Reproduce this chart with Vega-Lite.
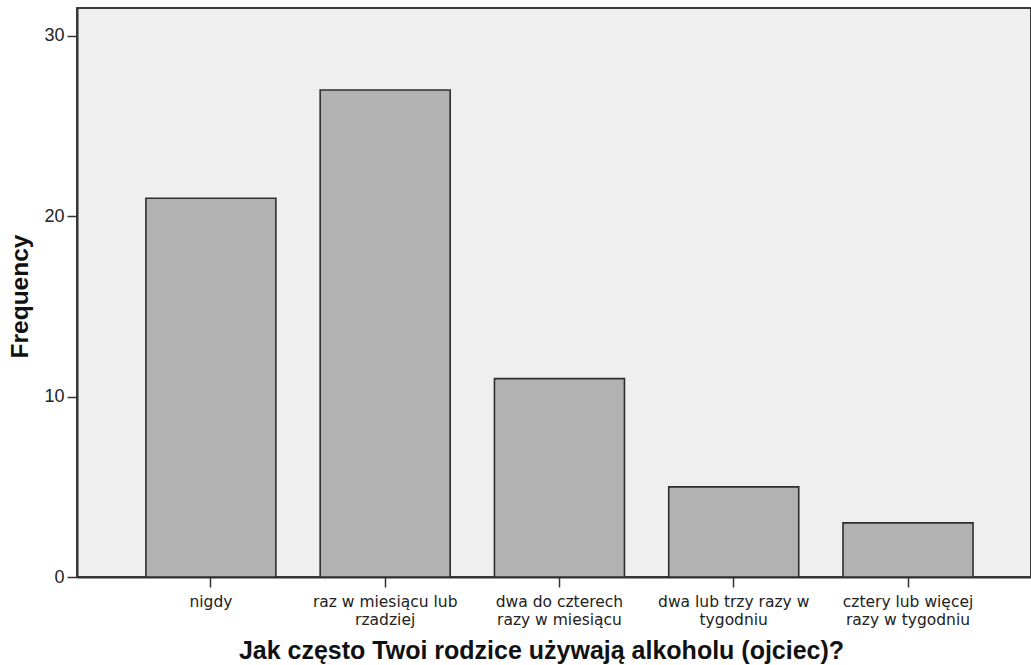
{
  "$schema": "https://vega.github.io/schema/vega-lite/v6.json",
  "autosize": {"type": "none"},
  "padding": {"left": 77, "top": 8, "right": 0, "bottom": 88},
  "width": 954,
  "height": 569,
  "background": "#ffffff",
  "data": {
    "values": [
      {"kategoria": "nigdy", "frequency": 21},
      {"kategoria": "raz w miesiącu lub rzadziej", "frequency": 27},
      {"kategoria": "dwa do czterech razy w miesiącu", "frequency": 11},
      {"kategoria": "dwa lub trzy razy w tygodniu", "frequency": 5},
      {"kategoria": "cztery lub więcej razy w tygodniu", "frequency": 3}
    ]
  },
  "mark": {"type": "bar", "fill": "#b2b2b2", "stroke": "#2e2e2e", "strokeWidth": 1.6},
  "encoding": {
    "x": {
      "field": "kategoria",
      "type": "nominal",
      "sort": null,
      "scale": {"paddingInner": 0.254, "paddingOuter": 0.364, "align": 0.543},
      "axis": {
        "title": "Jak często Twoi rodzice używają alkoholu (ojciec)?",
        "titleFont": "Liberation Sans",
        "titleFontSize": 25,
        "titleFontWeight": "bold",
        "titleColor": "#111111",
        "titleX": 464,
        "titleY": 81,
        "titleAlign": "center",
        "titleAnchor": null,
        "titleBaseline": "alphabetic",
        "labelAngle": 0,
        "labelFont": "DejaVu Sans",
        "labelFontSize": 15.5,
        "labelColor": "#222222",
        "labelLineHeight": 18.5,
        "labelPadding": 7,
        "labelLimit": 300,
        "labelExpr": "{'nigdy': 'nigdy', 'raz w miesiącu lub rzadziej': ['raz w miesiącu lub', 'rzadziej'], 'dwa do czterech razy w miesiącu': ['dwa do czterech', 'razy w miesiącu'], 'dwa lub trzy razy w tygodniu': ['dwa lub trzy razy w', 'tygodniu'], 'cztery lub więcej razy w tygodniu': ['cztery lub więcej', 'razy w tygodniu']}[datum.value]",
        "tickSize": 10,
        "tickColor": "#333333",
        "tickWidth": 1.5,
        "domainColor": "#333333",
        "domainWidth": 2
      }
    },
    "y": {
      "field": "frequency",
      "type": "quantitative",
      "scale": {"domain": [0, 31.55], "nice": false, "zero": true},
      "axis": {
        "title": "Frequency",
        "titleFont": "Liberation Sans",
        "titleFontSize": 24.5,
        "titleFontWeight": "bold",
        "titleColor": "#111111",
        "titleAngle": 270,
        "titleX": -50,
        "titleY": 288,
        "titleAlign": "center",
        "titleAnchor": null,
        "titleBaseline": "alphabetic",
        "values": [0, 10, 20, 30],
        "grid": false,
        "labelFont": "Liberation Sans",
        "labelFontSize": 18,
        "labelColor": "#222222",
        "labelPadding": 3,
        "tickSize": 10,
        "tickColor": "#333333",
        "tickWidth": 1.5,
        "domainColor": "#333333",
        "domainWidth": 2
      }
    }
  },
  "config": {
    "view": {"fill": "#efefef", "stroke": "#3a3a3a", "strokeWidth": 2}
  }
}
